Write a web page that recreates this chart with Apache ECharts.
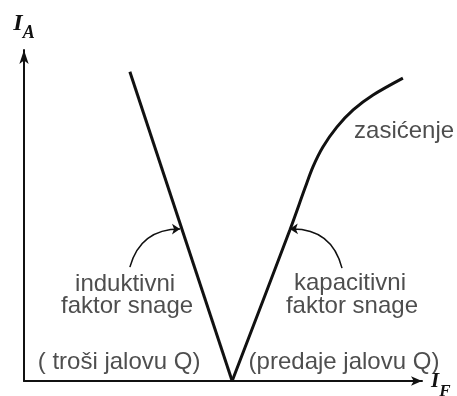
<!DOCTYPE html>
<html>
<head>
<meta charset="utf-8">
<script src="https://cdn.jsdelivr.net/npm/echarts@6/dist/echarts.min.js"></script>
<style>
  html, body { margin: 0; padding: 0; background: #fff; }
  #chart { width: 457px; height: 396px; }
</style>
</head>
<body>
<div id="chart"></div>
<script>
// V-krivulja: struja armature I_A u ovisnosti o struji uzbude I_F
const leftBranch = [[2.66, 9.34], [5.23, 0]];
const rightBranch = [
  [5.23, 0], [6.68, 4.56], [7.06, 5.83], [7.26, 6.47], [7.51, 7.07],
  [7.86, 7.67], [8.27, 8.19], [8.77, 8.64], [9.52, 9.15]
];

// natpisi (tekst i polozaj u jedinicama osi)
const labelTexts = [
  'induktivni', 'faktor snage', '( troši jalovu Q)',
  'kapacitivni', 'faktor snage', '(predaje jalovu Q)', 'zasićenje'
];
const labelPos = [
  [2.54, 2.93], [2.59, 2.24], [2.39, 0.57],
  [8.19, 2.96], [8.24, 2.24], [8.04, 0.57], [9.55, 7.55]
];

// zakrivljene strelice od natpisa prema krivulji
const arrowFrom = [[2.66, 3.44], [7.99, 3.41]];
const arrowTo = [[3.92, 4.59], [6.68, 4.59]];
const arrowBend = [0.38, -0.4];

const chart = echarts.init(document.getElementById('chart'));

// ime osi: kurzivno I s indeksom (indeks u visem retku, pa se spusta)
const axisName = (a, b, big, small, rowH, shift) => ({
  name: '{i|' + a + '}{s|' + b + '}',
  nameTextStyle: {
    padding: [shift, 0, 0, 0],
    rich: {
      i: { fontFamily: 'Liberation Serif', fontStyle: 'italic', fontWeight: 'bold', fontSize: big, lineHeight: big, color: '#111', verticalAlign: 'top' },
      s: { fontFamily: 'Liberation Serif', fontStyle: 'italic', fontWeight: 'bold', fontSize: small, lineHeight: rowH, color: '#111', verticalAlign: 'bottom' }
    }
  }
});

chart.setOption({
  backgroundColor: '#fff',
  animation: false,
  grid: { left: 24, right: 35, top: 50, bottom: 15, containLabel: false, outerBoundsMode: 'none' },
  xAxis: {
    type: 'value', min: 0, max: 10,
    ...axisName('I', 'F', 21, 17, 29, 10),
    nameLocation: 'end', nameGap: 9,
    axisLine: { lineStyle: { color: '#111', width: 2 }, symbol: ['none', 'arrow'], symbolSize: [7, 11] },
    axisTick: { show: false }, axisLabel: { show: false }, splitLine: { show: false }
  },
  yAxis: {
    type: 'value', min: 0, max: 10,
    ...axisName('I', 'A', 24, 18, 30, 0),
    nameLocation: 'end', nameGap: 8,
    axisLine: { lineStyle: { color: '#111', width: 2 }, symbol: ['none', 'arrow'], symbolSize: [7, 14] },
    axisTick: { show: false }, axisLabel: { show: false }, splitLine: { show: false }
  },
  series: [
    {
      type: 'line', data: leftBranch, showSymbol: false,
      lineStyle: { color: '#111', width: 3 }
    },
    {
      type: 'line', data: rightBranch, showSymbol: false, smooth: 0.3,
      lineStyle: { color: '#111', width: 3 }
    },
    {
      type: 'lines', coordinateSystem: 'cartesian2d',
      symbol: ['none', 'arrow'], symbolSize: 8,
      lineStyle: { color: '#111', width: 1.5, opacity: 1 },
      data: arrowFrom.map((p, i) => ({
        coords: [p, arrowTo[i]],
        lineStyle: { curveness: arrowBend[i] }
      }))
    },
    {
      type: 'scatter', symbolSize: 0,
      data: labelTexts.map((t, i) => ({ name: t, value: labelPos[i] })),
      label: {
        show: true, position: 'inside', formatter: '{b}',
        fontFamily: 'Liberation Sans', fontSize: 24, color: '#222'
      }
    }
  ]
});
</script>
</body>
</html>
